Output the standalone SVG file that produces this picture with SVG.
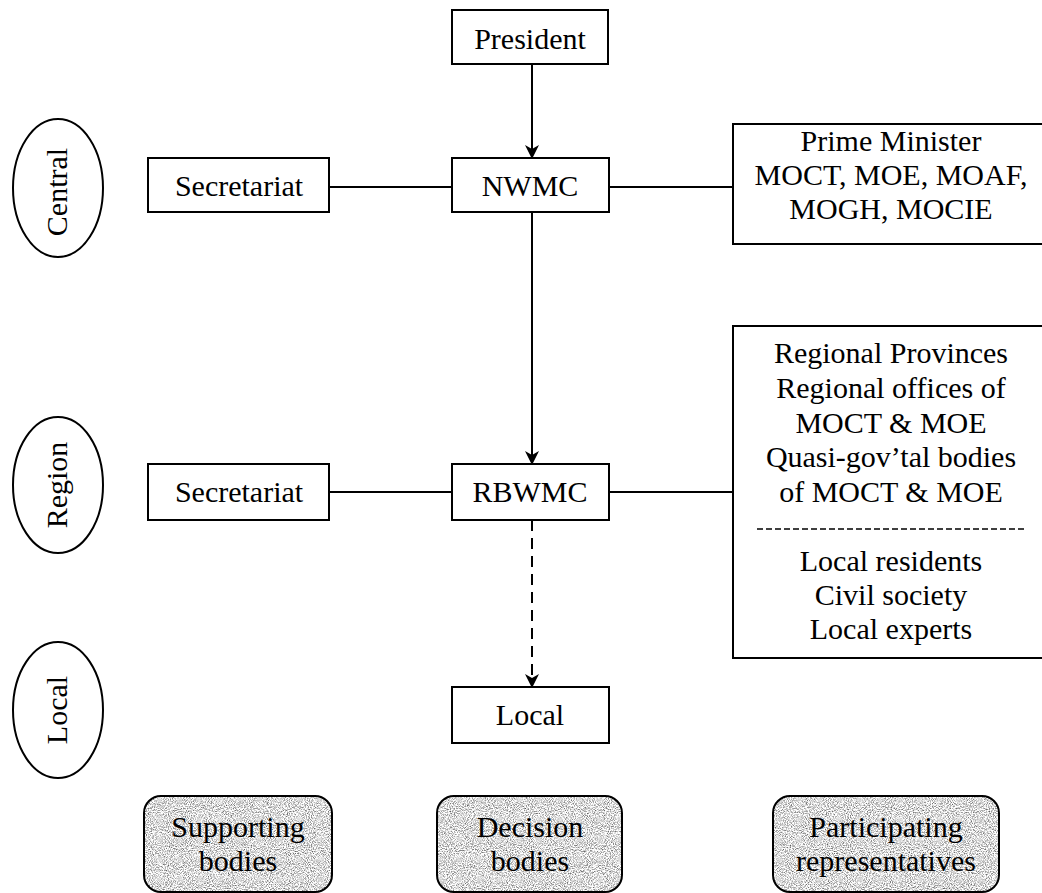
<svg xmlns="http://www.w3.org/2000/svg" width="1042" height="893" viewBox="0 0 1042 893">
  <style>
    .box { fill: #ffffff; stroke: #000000; stroke-width: 2; }
    .lvl { fill: #ffffff; stroke: #000000; stroke-width: 2; }
    .cat { fill: #d9d9d9; }
    .catline { fill: none; stroke: #000000; stroke-width: 2; }
    .t { font-size: 30px; fill: #000000; text-anchor: middle; }
    .link { fill: none; stroke: #000000; stroke-width: 2; }
    .dash { fill: none; stroke: #000000; stroke-width: 2; stroke-dasharray: 11 7; }
    .sep { fill: none; stroke: #000000; stroke-width: 1.6; stroke-dasharray: 6 3; }
  </style>
  <defs>
    <marker id="arrow" viewBox="0 0 14 14" refX="13" refY="7" markerWidth="14" markerHeight="14" markerUnits="userSpaceOnUse" orient="auto">
      <path d="M0,0 L14,7 L0,14 L4,7 Z" fill="#000000"/>
    </marker>
    <!-- speckled grey fill for the category boxes -->
    <filter id="grain" x="0" y="0" width="100%" height="100%" color-interpolation-filters="sRGB">
      <feTurbulence type="fractalNoise" baseFrequency="0.95" numOctaves="2" seed="7" result="noise"/>
      <feColorMatrix in="noise" type="matrix" values="1.4 0 0 0 0.16  1.4 0 0 0 0.16  1.4 0 0 0 0.16  0 0 0 0 1" result="gray"/>
      <feComposite in="gray" in2="SourceGraphic" operator="in"/>
    </filter>
  </defs>

  <g font-family="'Liberation Serif', 'Times New Roman', Times, 'DejaVu Serif', serif">
  <!-- level ellipses -->
  <g id="level-central">
    <ellipse class="lvl" cx="58" cy="188" rx="45" ry="69"/>
    <text class="t" transform="translate(67,192) rotate(-90)">Central</text>
  </g>
  <g id="level-region">
    <ellipse class="lvl" cx="58" cy="485" rx="45" ry="68"/>
    <text class="t" transform="translate(67,485) rotate(-90)">Region</text>
  </g>
  <g id="level-local">
    <ellipse class="lvl" cx="58" cy="710" rx="45" ry="68"/>
    <text class="t" transform="translate(67,710) rotate(-90)">Local</text>
  </g>

  <!-- connectors -->
  <g id="connectors">
    <line class="link" x1="532" y1="64" x2="532" y2="158" marker-end="url(#arrow)"/>
    <line class="link" x1="532" y1="212" x2="532" y2="464" marker-end="url(#arrow)"/>
    <line class="dash" x1="532" y1="520" x2="532" y2="687" marker-end="url(#arrow)"/>
    <line class="link" x1="329" y1="187" x2="452" y2="187"/>
    <line class="link" x1="609" y1="187" x2="733" y2="187"/>
    <line class="link" x1="329" y1="492" x2="452" y2="492"/>
    <line class="link" x1="609" y1="492" x2="733" y2="492"/>
  </g>

  <!-- decision bodies -->
  <g id="president">
    <rect class="box" x="452" y="10" width="156" height="54"/>
    <text class="t" x="530" y="49">President</text>
  </g>
  <g id="nwmc">
    <rect class="box" x="452" y="158" width="157" height="54"/>
    <text class="t" x="530" y="196">NWMC</text>
  </g>
  <g id="rbwmc">
    <rect class="box" x="452" y="464" width="157" height="56"/>
    <text class="t" x="530" y="502">RBWMC</text>
  </g>
  <g id="local">
    <rect class="box" x="452" y="687" width="157" height="56"/>
    <text class="t" x="530" y="725">Local</text>
  </g>

  <!-- supporting bodies -->
  <g id="secretariat-central">
    <rect class="box" x="148" y="158" width="181" height="54"/>
    <text class="t" x="239" y="196">Secretariat</text>
  </g>
  <g id="secretariat-region">
    <rect class="box" x="148" y="464" width="181" height="56"/>
    <text class="t" x="239" y="502">Secretariat</text>
  </g>

  <!-- participating representatives -->
  <g id="central-participants">
    <rect class="box" x="733" y="124" width="312" height="120"/>
    <text class="t" x="891" y="151">Prime Minister</text>
    <text class="t" x="891" y="185">MOCT, MOE, MOAF,</text>
    <text class="t" x="891" y="219">MOGH, MOCIE</text>
  </g>
  <g id="region-participants">
    <rect class="box" x="733" y="326" width="312" height="332"/>
    <text class="t" x="891" y="363">Regional Provinces</text>
    <text class="t" x="891" y="398">Regional offices of</text>
    <text class="t" x="891" y="433">MOCT &amp; MOE</text>
    <text class="t" x="891" y="467">Quasi-gov’tal bodies</text>
    <text class="t" x="891" y="502">of MOCT &amp; MOE</text>
    <line class="sep" x1="757" y1="529" x2="1027" y2="529"/>
    <text class="t" x="891" y="571">Local residents</text>
    <text class="t" x="891" y="605">Civil society</text>
    <text class="t" x="891" y="639">Local experts</text>
  </g>

  <!-- column categories -->
  <g id="cat-supporting">
    <rect class="cat" x="144" y="796" width="188" height="96" rx="17" filter="url(#grain)"/>
    <rect class="catline" x="144" y="796" width="188" height="96" rx="17"/>
    <text class="t" x="238" y="837">Supporting</text>
    <text class="t" x="238" y="871">bodies</text>
  </g>
  <g id="cat-decision">
    <rect class="cat" x="437" y="796" width="185" height="96" rx="17" filter="url(#grain)"/>
    <rect class="catline" x="437" y="796" width="185" height="96" rx="17"/>
    <text class="t" x="530" y="837">Decision</text>
    <text class="t" x="530" y="871">bodies</text>
  </g>
  <g id="cat-participating">
    <rect class="cat" x="773" y="796" width="226" height="96" rx="17" filter="url(#grain)"/>
    <rect class="catline" x="773" y="796" width="226" height="96" rx="17"/>
    <text class="t" x="886" y="837">Participating</text>
    <text class="t" x="886" y="871">representatives</text>
  </g>
  </g>
</svg>
